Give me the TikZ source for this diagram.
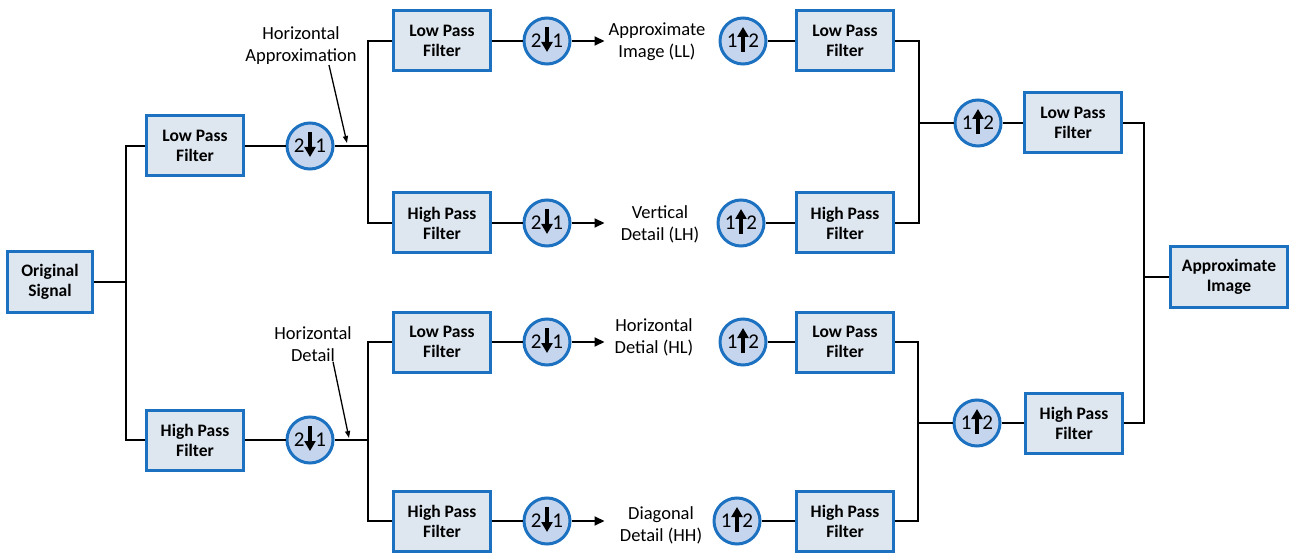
\documentclass[tikz,border=0pt]{standalone}
\usepackage{fontspec}
\setmainfont{Carlito}
\usetikzlibrary{arrows.meta}

\definecolor{boxblue}{RGB}{28,114,192}
\definecolor{boxfill}{RGB}{222,231,240}
\definecolor{sampfill}{RGB}{198,213,238}

\begin{document}
\begin{tikzpicture}
[every node/.style={inner sep=0pt},
 filt/.style={rectangle, minimum width=97pt, minimum height=60pt, fill=boxfill, line width=3pt, draw=boxblue, align=center, font=\bfseries\fontsize{17.5}{20}\selectfont},
 samp/.style={circle, minimum size=46pt, fill=sampfill, line width=3pt, draw=boxblue, font=\fontsize{21}{22}\selectfont},
 dwn/.style={samp, path picture={\draw [black, line width=3.5pt, -{Triangle[length=10pt, width=11pt]}] ([yshift=14pt]path picture bounding box.center) -- ([yshift=-11pt]path picture bounding box.center);}},
 upw/.style={samp, path picture={\draw [black, line width=3.5pt, -{Triangle[length=10pt, width=11pt]}] ([yshift=-11pt]path picture bounding box.center) -- ([yshift=14pt]path picture bounding box.center);}},
 lbl/.style={align=center, font=\fontsize{18.5}{22}\selectfont},
 wire/.style={line width=2pt, color=black},
 tip/.style={-{Triangle[length=10pt, width=9pt]}},
 note/.style={line width=1.3pt, color=black, -{Triangle[length=7pt, width=5pt]}}]
\useasboundingbox (0pt, 0pt) rectangle (1290pt, -553pt);

\node (orig) [filt, minimum width=85pt] at (50pt, -282pt) {Original\\Signal};
\node (lpA) [filt] at (195pt, -146pt) {Low Pass\\Filter};
\node (hpA) [filt] at (195pt, -440pt) {High Pass\\Filter};
\node (dnA) [dwn] at (310pt, -146pt) {2\hspace{11pt}1};
\node (dnB) [dwn] at (310pt, -440pt) {2\hspace{11pt}1};
\node (hA) [lbl] at (301pt, -46pt) {Horizontal\\Approximation};
\node (hD) [lbl] at (313pt, -344pt) {Horizontal\\Detail};

\node (lpB) [filt] at (442pt, -41pt) {Low Pass\\Filter};
\node (hpB) [filt] at (442pt, -223pt) {High Pass\\Filter};
\node (lpC) [filt] at (442pt, -342pt) {Low Pass\\Filter};
\node (hpC) [filt] at (442pt, -521pt) {High Pass\\Filter};
\node (dnC) [dwn] at (547pt, -41pt) {2\hspace{11pt}1};
\node (dnD) [dwn] at (547pt, -223pt) {2\hspace{11pt}1};
\node (dnE) [dwn] at (547pt, -342pt) {2\hspace{11pt}1};
\node (dnF) [dwn] at (547pt, -521pt) {2\hspace{11pt}1};
\node (txLL) [lbl] at (657pt, -42pt) {Approximate\\Image (LL)};
\node (txLH) [lbl] at (660pt, -224pt) {Vertical\\Detail (LH)};
\node (txHL) [lbl] at (654pt, -337pt) {Horizontal\\Detial (HL)};
\node (txHH) [lbl] at (661pt, -525pt) {Diagonal\\Detail (HH)};

\node (upC) [upw] at (743pt, -41pt) {1\hspace{11pt}2};
\node (upD) [upw] at (741pt, -223pt) {1\hspace{11pt}2};
\node (upE) [upw] at (743pt, -342pt) {1\hspace{11pt}2};
\node (upF) [upw] at (737pt, -521pt) {1\hspace{11pt}2};
\node (lpD) [filt] at (845pt, -41pt) {Low Pass\\Filter};
\node (hpD) [filt] at (845pt, -223pt) {High Pass\\Filter};
\node (lpE) [filt] at (845pt, -342pt) {Low Pass\\Filter};
\node (hpE) [filt] at (845pt, -521pt) {High Pass\\Filter};
\node (upA) [upw] at (978pt, -123pt) {1\hspace{11pt}2};
\node (upB) [upw] at (977pt, -423pt) {1\hspace{11pt}2};
\node (lpF) [filt] at (1073pt, -123pt) {Low Pass\\Filter};
\node (hpF) [filt] at (1074pt, -423pt) {High Pass\\Filter};
\node (res) [filt, minimum width=117pt, minimum height=61pt] at (1229pt, -277pt) {Approximate\\Image};

\coordinate (s1) at (126pt, -282pt);
\coordinate (s2) at (368pt, -146pt);
\coordinate (s3) at (368pt, -440pt);
\coordinate (m1) at (919pt, -123pt);
\coordinate (m2) at (918pt, -423pt);
\coordinate (m3) at (1144pt, -277pt);
\coordinate (t1) at (347pt, -143pt);
\coordinate (t2) at (349pt, -438pt);

% analysis
\draw [wire] (orig) -- (s1);
\draw [wire] (lpA.west) -| (s1) |- (hpA.west);
\draw [wire] (lpA) -- (dnA);
\draw [wire] (hpA) -- (dnB);
\draw [wire] (dnA) -- (s2);
\draw [wire] (dnB) -- (s3);
\draw [wire] (lpB.west) -| (s2) |- (hpB.west);
\draw [wire] (lpC.west) -| (s3) |- (hpC.west);
\draw [wire] (lpB) -- (dnC);
\draw [wire] (hpB) -- (dnD);
\draw [wire] (lpC) -- (dnE);
\draw [wire] (hpC) -- (dnF);
\draw [wire, tip] (dnC) -- ([xshift=33pt]dnC.east);
\draw [wire, tip] (dnD) -- ([xshift=33pt]dnD.east);
\draw [wire, tip] (dnE) -- ([xshift=33pt]dnE.east);
\draw [wire, tip] (dnF) -- ([xshift=33pt]dnF.east);
\draw [note] ([xshift=28pt]hA.south) -- (t1);
\draw [note] ([xshift=20pt]hD.south) -- (t2);

% synthesis
\draw [wire] (upC) -- (lpD);
\draw [wire] (upD) -- (hpD);
\draw [wire] (upE) -- (lpE);
\draw [wire] (upF) -- (hpE);
\draw [wire] (lpD.east) -| (m1) |- (hpD.east);
\draw [wire] (lpE.east) -| (m2) |- (hpE.east);
\draw [wire] (m1) -- (upA);
\draw [wire] (m2) -- (upB);
\draw [wire] (upA) -- (lpF);
\draw [wire] (upB) -- (hpF);
\draw [wire] (lpF.east) -| (m3) |- (hpF.east);
\draw [wire] (m3) -- (res);

\end{tikzpicture}
\end{document}
